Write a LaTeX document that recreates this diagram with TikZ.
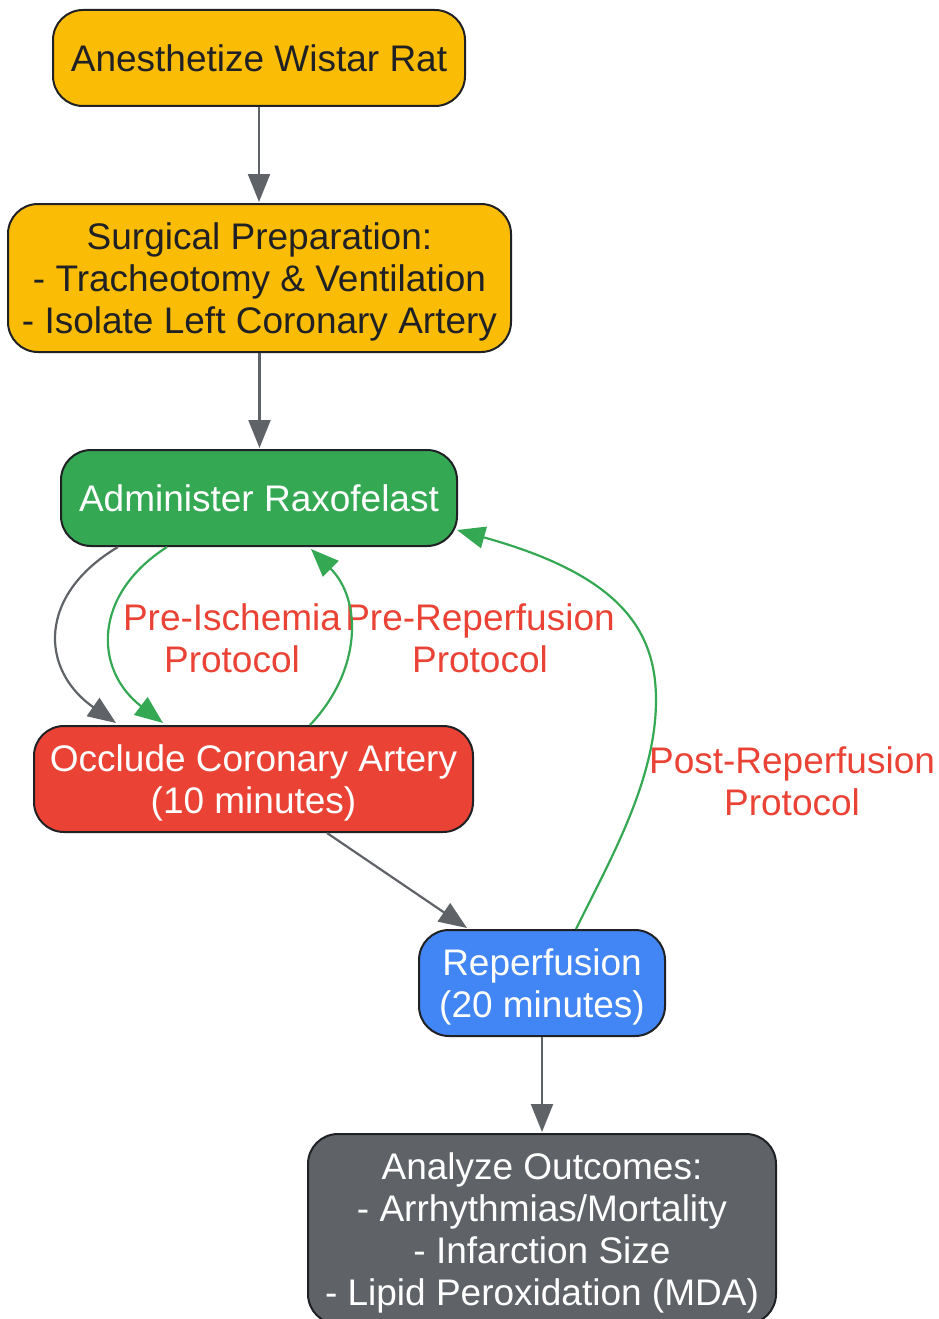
\documentclass[tikz,border=0pt]{standalone}
\usepackage{fontspec}
\setmainfont{Liberation Sans}
\usepackage{tikz}
\usetikzlibrary{arrows.meta}
\usetikzlibrary{calc}
\definecolor{gyellow}{HTML}{FBBC05}
\definecolor{ggreen}{HTML}{34A853}
\definecolor{gred}{HTML}{EA4335}
\definecolor{gblue}{HTML}{4285F4}
\definecolor{ggrey}{HTML}{5F6368}
\definecolor{ink}{HTML}{202124}
\newcommand\flowfont{\fontsize{37}{42}\selectfont}
\tikzstyle{stage}=[draw=ink,line width=2pt,rounded corners=30pt,align=center,inner sep=0pt,text=white,font=\flowfont]
\tikzstyle{lines}=[text depth=-8pt]
\tikzstyle{flowhead}=[>/.tip={Triangle[length=28pt,width=22pt]}]
\tikzstyle{flow} =[line width=2.2pt,flowhead,->,color=ggrey]
\tikzstyle{dose} =[line width=2.2pt,flowhead,->,color=ggreen]
\tikzstyle{protocol}=[text=gred,align=center,inner sep=0pt,font=\flowfont]

\begin{document}
\begin{tikzpicture}[x=1pt,y=-1pt]
	\useasboundingbox (0,0) rectangle (938,1319);
	\node[stage,fill=gyellow,text=ink,minimum width=412pt,minimum height=96pt]  (anest) at (259,58)    {Anesthetize Wistar Rat};
	\node[stage,lines,fill=gyellow,text=ink,minimum width=503pt,minimum height=148pt] (surg)  at (259.5,278) {Surgical Preparation:\\- Tracheotomy \& Ventilation\\- Isolate Left Coronary Artery};
	\node[stage,fill=ggreen,minimum width=396pt,minimum height=96pt]  (drug)  at (259,498)   {Administer Raxofelast};
	\node[stage,lines,fill=gred,minimum width=439pt,minimum height=106pt]   (occl)  at (253.5,779) {Occlude Coronary Artery\\(10 minutes)};
	\node[stage,lines,fill=gblue,minimum width=246pt,minimum height=106pt]  (reperf) at (542,983)  {Reperfusion\\(20 minutes)};
	\node[stage,lines,fill=ggrey,minimum width=468pt,minimum height=190pt]  (outc)  at (542,1229)  {Analyze Outcomes:\\- Arrhythmias/Mortality\\- Infarction Size\\- Lipid Peroxidation (MDA)};

	\node[protocol] (preisch)   at (232,638) {Pre-Ischemia\\Protocol};
	\node[protocol] (prereperf) at (480,638) {Pre-Reperfusion\\Protocol};
	\node[protocol] (postreperf) at (792,781) {Post-Reperfusion\\Protocol};

	\draw[flow] (anest.south) -- ($(surg.north)+(-0.5,-1)$);
	\draw[flow] (surg.south) -- ($(drug.north)+(0.5,-1)$);
	\draw[flow] ($(drug.south)+(-141,0)$) .. controls (37,595) and (40,670) .. ($(occl.north)+(-137.5,-2)$);
	\draw[dose] ($(drug.south)+(-92,0)$)  .. controls (92,595) and (94,670) .. ($(occl.north)+(-90.5,-2)$);
	\draw[dose] ($(occl.north)+(56.5,0)$) .. controls (362,670) and (362,600) .. ($(drug.south)+(52,2)$);
	\draw[flow] ($(occl.south)+(73.5,0)$) -- ($(reperf.north)+(-75,-1)$);
	\draw[dose] ($(reperf.north)+(34,0)$) .. controls (610,860) and (656,780) .. (656,700)
		.. controls (656,630) and (620,575) .. ($(drug.east)+(-1,32)$);
	\draw[flow] (reperf.south) -- ($(outc.north)+(0,-1)$);
\end{tikzpicture}
\end{document}
